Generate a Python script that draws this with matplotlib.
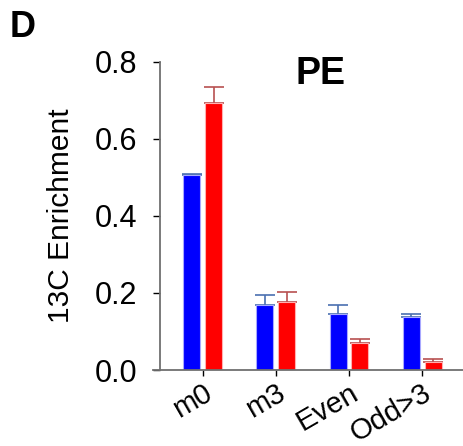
import numpy as np
import matplotlib
matplotlib.use("Agg")
import matplotlib.pyplot as plt

plt.rcParams['font.family'] = ['Liberation Sans', 'DejaVu Sans']

categories = ['m0', 'm3', 'Even', 'Odd>3']
blue_vals = [0.506, 0.168, 0.145, 0.138]
blue_err = [0.002, 0.026, 0.023, 0.008]
red_vals = [0.693, 0.177, 0.069, 0.022]
red_err = [0.041, 0.025, 0.011, 0.007]

fig = plt.figure(figsize=(4.63, 4.46), dpi=100)
ax = fig.add_axes([0.330, 0.1704, 0.670, 0.6906])

x = np.arange(len(categories))
w = 0.233
ax.bar(x - 0.15, blue_vals, w, color='#0000ff', edgecolor='#a8a8ff', linewidth=0.8, zorder=2)
ax.bar(x + 0.15, red_vals, w, color='#ff0000', edgecolor='#ffb0b0', linewidth=0.8, zorder=2)
ax.errorbar(x - 0.15, blue_vals, yerr=[np.zeros(4), blue_err], fmt='none',
            ecolor='#4a6fb0', elinewidth=1.2, capsize=7, capthick=1.2, zorder=1)
ax.errorbar(x + 0.15, red_vals, yerr=[np.zeros(4), red_err], fmt='none',
            ecolor='#b85050', elinewidth=1.2, capsize=7, capthick=1.2, zorder=1)

ax.set_xlim(-0.685, 3.56)
ax.set_ylim(0, 0.8)
ax.set_yticks([0.0, 0.2, 0.4, 0.6, 0.8])
ax.set_yticklabels(['0.0', '0.2', '0.4', '0.6', '0.8'])
ax.set_xticks(x)
ax.set_xticklabels(categories, rotation=30, ha='right', rotation_mode='anchor')

for s in ['top', 'right']:
    ax.spines[s].set_visible(False)
ax.spines['left'].set_position(('data', -0.59))
for s in ['left', 'bottom']:
    ax.spines[s].set_color('#707070')
    ax.spines[s].set_linewidth(1.3)

ax.tick_params(axis='y', labelsize=22, length=5, width=1, pad=11)
ax.tick_params(axis='x', labelsize=21, length=4, width=1, pad=2)

ax.set_ylabel('13C Enrichment', fontsize=21.5, labelpad=14)
ax.text(0.54, 0.96, 'PE', transform=ax.transAxes, fontsize=27, fontweight='bold',
        ha='center', va='center')
fig.text(0.02, 0.938, 'D', fontsize=26, fontweight='bold', ha='left', va='center')

fig.savefig('out.png', dpi=100)
